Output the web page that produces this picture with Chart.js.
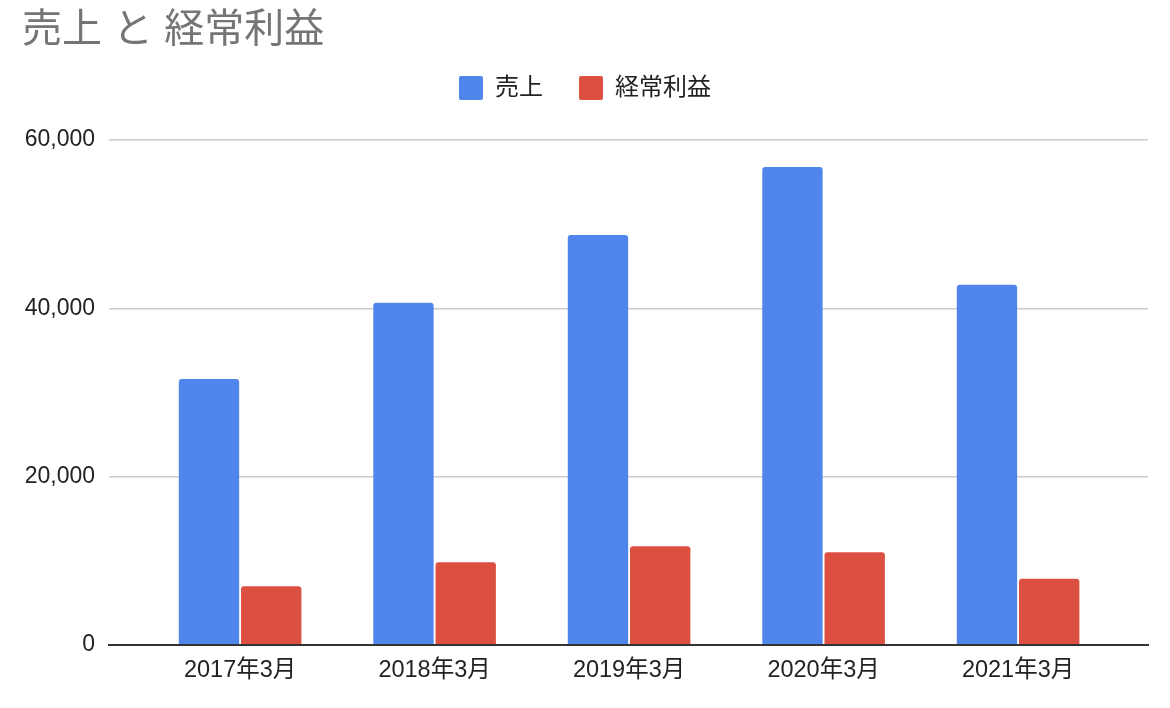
<!DOCTYPE html>
<html lang="ja">
<head>
<meta charset="utf-8">
<title>売上 と 経常利益</title>
<script src="https://cdn.jsdelivr.net/npm/chart.js@4.4.1/dist/chart.umd.min.js"></script>
<style>
  html, body { margin: 0; padding: 0; background: #fff; }
  #wrap { width: 1170px; height: 708px; }
</style>
</head>
<body>
<div id="wrap"><canvas id="mainChart" width="1170" height="708"></canvas></div>
<script>
// === Data ===
const categories = ["2017年3月", "2018年3月", "2019年3月", "2020年3月", "2021年3月"];
const salesValues = [31600, 40650, 48700, 56800, 42800];
const profitValues = [6950, 9800, 11700, 11000, 7850];
const seriesNames = ["売上", "経常利益"];
const yTicks = [0, 20000, 40000, 60000];

const FONT = "'Liberation Sans', Arial, 'Noto Sans CJK JP', sans-serif";

// extra room under the legend row (Chart.js only leaves 10px)
const legendGap = {
  id: "legendGap",
  beforeInit(chart) {
    const origFit = chart.legend.fit;
    chart.legend.fit = function () {
      origFit.bind(chart.legend)();
      this.height += 30;
    };
  }
};

document.addEventListener("DOMContentLoaded", function () {
  const ctx = document.getElementById("mainChart");

  // categories sit on a numeric x axis so the plot keeps empty margins left and right
  const toPoints = (values) => values.map((v, i) => ({ x: i, y: v }));

  const barStyle = {
    categoryPercentage: 0.64,
    barPercentage: 0.97,
    borderRadius: { topLeft: 3, topRight: 3 },
    borderSkipped: "start"
  };

  new Chart(ctx.getContext("2d"), {
    type: "bar",
    data: {
      datasets: [
        { label: seriesNames[0], data: toPoints(salesValues), backgroundColor: "#5086ec", ...barStyle },
        { label: seriesNames[1], data: toPoints(profitValues), backgroundColor: "#db5041", ...barStyle }
      ]
    },
    plugins: [legendGap],
    options: {
      responsive: false,
      animation: false,
      layout: { padding: { left: 22, right: 22, top: 7, bottom: 11 } },
      plugins: {
        title: {
          display: true,
          text: "売上 と 経常利益",
          align: "start",
          color: "#757575",
          font: { family: FONT, size: 40, weight: "normal" },
          padding: { top: 0, bottom: -15 }
        },
        legend: {
          display: true,
          labels: {
            color: "#222",
            font: { family: FONT, size: 24 },
            boxWidth: 24,
            boxHeight: 24,
            useBorderRadius: true,
            borderRadius: 2,
            padding: 36
          }
        },
        tooltip: { enabled: false }
      },
      scales: {
        x: {
          type: "linear",
          offset: false,
          min: -0.674,
          max: categories.length - 1 + 0.668,
          afterBuildTicks: (axis) => { axis.ticks = categories.map((_, i) => ({ value: i })); },
          grid: { display: false, drawTicks: false, offset: false },
          border: { display: true, color: "#333", width: 2 },
          ticks: {
            color: "#222",
            font: { family: FONT, size: 23.5 },
            padding: 12,
            maxRotation: 0,
            autoSkip: false,
            callback: (v) => categories[v]
          }
        },
        y: {
          min: 0,
          max: yTicks[yTicks.length - 1],
          afterBuildTicks: (axis) => { axis.ticks = yTicks.map(v => ({ value: v })); },
          afterFit: (axis) => { axis.width = 87; },
          border: { display: false },
          grid: {
            drawTicks: false,
            color: (c) => c.tick && c.tick.value === 0 ? "rgba(0,0,0,0)" : "#cccccc",
            lineWidth: 1.5
          },
          ticks: {
            color: "#222",
            font: { family: FONT, size: 23 },
            padding: 14,
            callback: (v) => Number(v).toLocaleString("en-US")
          }
        }
      }
    }
  });
});
</script>
</body>
</html>
